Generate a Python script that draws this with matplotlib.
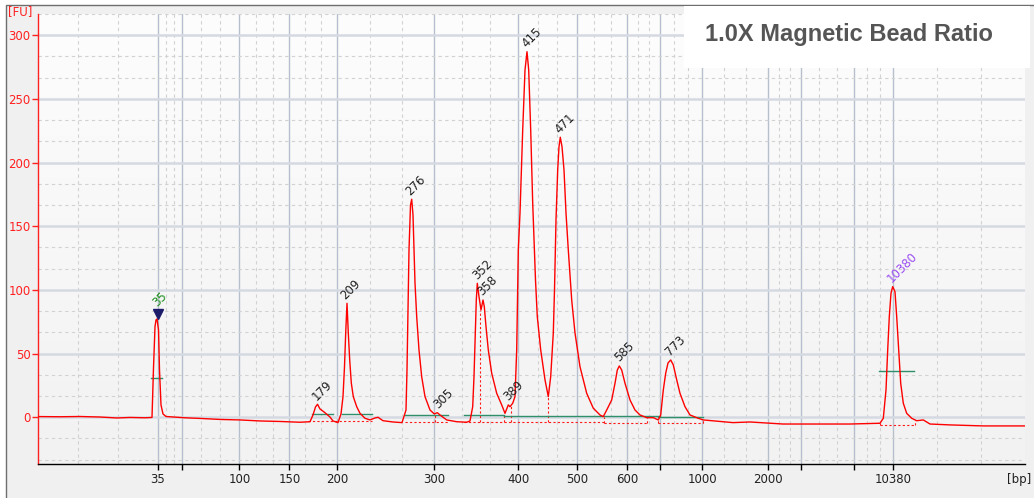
import numpy as np
import matplotlib
matplotlib.use("Agg")
import matplotlib.pyplot as plt
from matplotlib.patches import Rectangle
from matplotlib.colors import LinearSegmentedColormap

# ---------------- data ----------------
# ladder calibration: fragment size (bp) vs migration time (s)
ladder_bp = [35, 50, 100, 150, 200, 300, 400, 500, 600, 700, 1000, 2000, 3000, 7000, 10380]
ladder_time = [41.97, 44.40, 50.13, 55.13, 59.93, 69.63, 78.00, 83.90, 88.93, 92.23,
               96.43, 103.03, 106.33, 111.63, 115.47]
ladder_labels = ["35", "", "100", "150", "200", "300", "400", "500", "600", "",
                 "1000", "2000", "", "", "10380"]

# electropherogram trace: migration time (s) and fluorescence (FU)
trace_time = [30.00, 32.20, 34.20, 36.20, 37.90, 39.20, 40.70, 41.40, 41.55, 41.70,
              41.80, 41.90, 42.05, 42.15, 42.30, 42.50, 42.80, 43.70, 44.70, 46.20,
              48.20, 50.20, 52.20, 54.20, 56.20, 57.20, 57.50, 57.75, 57.95, 58.20,
              58.60, 59.20, 59.50, 60.00, 60.30, 60.50, 60.65, 60.77, 60.90, 61.03,
              61.17, 61.33, 61.53, 61.87, 62.20, 62.70, 63.20, 63.70, 64.00, 64.50,
              65.50, 66.40, 66.80, 66.90, 67.00, 67.10, 67.25, 67.37, 67.50, 67.60,
              67.70, 67.87, 68.10, 68.37, 68.70, 69.20, 69.63, 69.93, 70.20, 70.87,
              71.87, 72.87, 73.20, 73.47, 73.60, 73.73, 73.83, 73.93, 74.10, 74.30,
              74.50, 74.63, 74.80, 75.03, 75.37, 75.87, 76.37, 76.70, 77.03, 77.20,
              77.47, 77.70, 77.87, 78.03, 78.20, 78.47, 78.70, 78.90, 79.07, 79.27,
              79.47, 79.60, 79.75, 79.93, 80.27, 80.70, 81.03, 81.27, 81.53, 81.65,
              81.80, 81.97, 82.10, 82.23, 82.40, 82.60, 82.80, 83.03, 83.37, 83.70,
              84.20, 84.87, 85.53, 86.20, 86.53, 86.87, 87.37, 87.70, 87.93, 88.13,
              88.37, 88.70, 89.20, 89.70, 90.20, 90.87, 91.53, 92.03, 92.27, 92.53,
              92.77, 93.00, 93.27, 93.53, 93.87, 94.20, 94.70, 95.20, 96.03, 96.53,
              99.50, 101.20, 104.50, 107.87, 111.20, 114.20, 114.53, 114.80, 114.97, 115.13,
              115.30, 115.47, 115.70, 115.87, 116.07, 116.27, 116.53, 116.87, 117.37, 117.87,
              118.53, 119.20, 121.20, 124.53, 128.67]
trace_fu = [0.55, 0.40, 0.60, 0.20, -0.55, -0.15, -0.40, -0.15, 38.7, 71.2,
            76.4, 77.2, 68.6, 37.1, 9.7, 2.6, 0.6, 0.1, -0.4, -0.9,
            -1.7, -2.1, -2.9, -3.3, -3.9, -3.5, 1.8, 8.1, 10.2, 6.5,
            4.2, 0.2, -2.9, -4.2, 2.6, 16.2, 39.7, 66.2, 89.5, 66.2,
            45.0, 26.9, 16.2, 8.3, 3.1, -0.8, -2.1, -0.55, 0.0, -2.7,
            -3.7, -4.2, 5.7, 37.1, 84.3, 131.4, 166.7, 171.2, 158.9, 131.4,
            105.5, 79.0, 52.8, 31.8, 16.2, 5.7, 2.6, 3.6, 1.8, -2.1,
            -3.5, -3.9, -2.9, 8.3, 31.9, 66.2, 92.1, 105.2, 94.7, 84.3,
            92.1, 86.9, 71.2, 52.9, 34.6, 18.8, 9.7, 3.1, 9.7, 8.3,
            11.0, 16.2, 52.9, 131.4, 160.4, 225.6, 272.7, 287.1, 272.7, 225.6,
            168.3, 139.4, 107.8, 79.0, 52.9, 29.4, 16.2, 31.9, 66.2, 100.0,
            155.0, 194.3, 212.5, 219.9, 212.5, 194.3, 160.4, 131.4, 92.1, 66.2,
            39.7, 18.8, 7.1, 1.8, 0.5, 5.7, 13.6, 26.7, 37.1, 40.3,
            37.1, 26.7, 13.6, 5.7, 1.8, -0.3, -0.3, -2.1, 1.8, 21.4,
            34.6, 42.6, 45.0, 41.1, 29.4, 18.8, 8.3, 1.8, -0.8, -2.1,
            -4.2, -3.7, -5.3, -5.3, -5.3, -4.7, -0.8, 21.4, 52.9, 79.0,
            97.4, 102.6, 98.6, 79.0, 52.9, 26.7, 11.0, 3.1, -0.8, -2.7,
            -2.1, -5.3, -6.0, -6.8, -6.8]

# called peaks: size (bp) and height (FU)
peak_bp = [35, 179, 209, 276, 305, 352, 358, 389, 415, 471, 585, 773, 10380]
peak_fu = [84.0, 10.2, 89.5, 171.2, 3.6, 105.2, 92.1, 9.7, 287.1, 219.9, 40.3, 45.0, 102.6]
peak_kind = ["lower", "s", "s", "s", "s", "s", "s", "s", "s", "s", "s", "s", "upper"]
marker_fu = 81.0

# integration levels (green): start time, end time, FU
level_t0 = [41.33, 57.43, 60.37, 66.70, 72.60, 76.60, 92.03, 114.13]
level_t1 = [42.43, 59.53, 63.37, 71.03, 76.60, 92.20, 96.53, 117.60]
level_fu = [30.6, 2.4, 2.4, 1.6, 1.6, 1.0, 0.3, 36.6]

# baselines (red dashed): start time, end time, FU
base_t0 = [57.0, 66.7, 72.6, 86.6, 92.03, 114.2]
base_t1 = [63.4, 71.0, 86.6, 90.87, 96.53, 117.7]
base_fu = [-3.3, -3.6, -3.6, -4.2, -4.7, -6.0]

# peak boundaries (red dashed verticals): time, FU bottom, FU top
div_t = [69.70, 74.20, 76.63, 77.27, 81.03, 86.60, 90.87, 92.03, 96.53, 114.20, 117.70]
div_lo = [-3.6, -3.6, -3.6, -3.6, -3.6, -4.2, -4.2, -4.7, -4.7, -6.0, -6.0]
div_hi = [2.5, 84.3, 3.5, 8.5, 16.2, 0.5, -0.3, -2.1, -2.1, -4.7, -2.5]

title = "1.0X Magnetic Bead Ratio"
y_ticks = [0, 50, 100, 150, 200, 250, 300]

# ---------------- figure ----------------
W, H = 1034, 498
fig = plt.figure(figsize=(W / 100, H / 100), dpi=100, facecolor="white")

# outer panel
fig.patches.append(Rectangle((5.5 / W, -0.1), 1.2, 1.1 - 5.5 / H, transform=fig.transFigure,
                             facecolor="#f0f0f0", edgecolor="#6e6e6e", lw=1.0, zorder=-5))

ax = fig.add_axes([38 / W, 1 - 464 / H, (1025 - 38) / W, (464 - 14) / H])
ax.set_facecolor("none")
grad = np.linspace(0, 1, 256).reshape(-1, 1)
ax.imshow(grad, extent=(0, 1, 0, 1), transform=ax.transAxes, aspect="auto",
          cmap=LinearSegmentedColormap.from_list("bg", ["#fdfdfd", "#f2f2f2"]), zorder=0)

xlim = (30.0, 128.7)
ylim = (-36.7, 316.7)

# grid
ax.set_axisbelow(True)
ax.set_xticks(ladder_time)
ax.set_xticklabels(ladder_labels)
edges = [xlim[0]] + ladder_time + [xlim[1]]
minor_x = []
for a, b in zip(edges[:-1], edges[1:]):
    minor_x += [a + (b - a) / 3, a + 2 * (b - a) / 3]
ax.set_xticks(minor_x, minor=True)
ax.set_yticks(y_ticks)
minor_y = [k * 50 / 3 for k in range(-2, 20) if k % 3 != 0]
ax.set_yticks(minor_y, minor=True)

ax.xaxis.grid(True, which="major", color="#b6bfcd", lw=1.0, ls="-")
ax.yaxis.grid(True, which="major", color="#d5dae2", lw=1.8, ls="-")
ax.xaxis.grid(True, which="minor", color="#d2d2d2", lw=0.8, ls=(0, (3, 3)))
ax.yaxis.grid(True, which="minor", color="#d2d2d2", lw=0.8, ls=(0, (3, 3)))

ax.tick_params(axis="x", which="major", direction="out", length=4.3, width=1,
               color="black", labelcolor="#202020", labelsize=8.5, pad=2)
ax.tick_params(axis="y", which="major", direction="out", length=4.3, width=1,
               color="#ff2020", labelcolor="#ff2020", labelsize=8.5, pad=1)
ax.tick_params(which="minor", length=0)

for s in ["top", "right"]:
    ax.spines[s].set_visible(False)
ax.spines["left"].set_color("#ff2020")
ax.spines["left"].set_linewidth(1.0)
ax.spines["bottom"].set_color("black")
ax.spines["bottom"].set_linewidth(1.0)

# baselines and boundaries
red = "#ff1a1a"
for t0, t1, f in zip(base_t0, base_t1, base_fu):
    ax.plot([t0, t1], [f, f], color=red, lw=0.8, ls=(0, (2, 2)), zorder=2)
for t, lo, hi in zip(div_t, div_lo, div_hi):
    ax.plot([t, t], [lo, hi], color=red, lw=0.8, ls=(0, (2, 2)), zorder=2)

# levels
for t0, t1, f in zip(level_t0, level_t1, level_fu):
    ax.plot([t0, t1], [f, f], color="#2f8f6a", lw=1.0, zorder=3)

# trace
ax.plot(trace_time, trace_fu, color="#ff0000", lw=1.0, zorder=4)

# lower marker triangle
peak_time = np.interp(peak_bp, ladder_bp, ladder_time)
ax.plot([peak_time[0]], [marker_fu], marker="v", ms=6.5, color="#1c1c6a", zorder=5, ls="none")

# peak labels
col = {"lower": "#1f901f", "upper": "#9a4cf0", "s": "#202020"}
for t, f, b, k in zip(peak_time, peak_fu, peak_bp, peak_kind):
    ax.annotate(str(b), (t, f), xytext=(1.0, 1.0), textcoords="offset points",
                rotation=45, rotation_mode="anchor", ha="left", va="bottom",
                fontsize=8.5, color=col[k], zorder=6)

ax.set_xlim(*xlim)
ax.set_ylim(*ylim)

# title box
fig.patches.append(Rectangle((684 / W, 1 - 68 / H), (1030 - 684) / W, (68 - 6) / H,
                             transform=fig.transFigure, facecolor="white",
                             edgecolor="none", zorder=2))
fig.text(705 / W, 1 - 40.7 / H, title, fontsize=17, fontweight="bold",
         family="Liberation Sans", color="#555555", va="baseline", ha="left", zorder=3)

fig.text(8 / W, 1 - 12 / H, "[FU]", fontsize=8.5, color="#ff2020", va="center", ha="left")
fig.text(1031 / W, 1 - 479 / H, "[bp]", fontsize=8.5, color="#202020", va="center", ha="right")

fig.savefig("out.png", dpi=100)
